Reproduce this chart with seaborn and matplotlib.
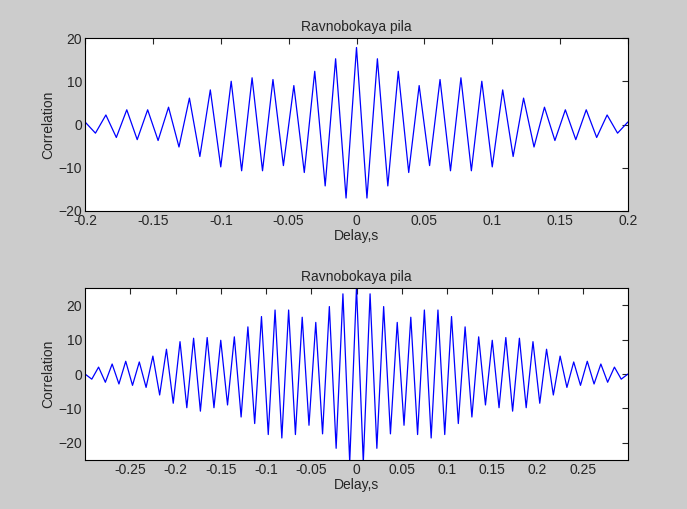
import numpy as np
import pandas as pd
import matplotlib
matplotlib.use("Agg")
import matplotlib.pyplot as plt
import seaborn as sns

sns.set_style("white")
plt.rcParams['font.family'] = ['Liberation Sans', 'DejaVu Sans']

# right-half extremes (peak, trough alternating), mirrored for the left half
top_peaks = [17.8, 15.2, 12.3, 9.0, 10.4, 10.8, 10.0, 8.0, 6.1, 4.0, 3.4, 3.4, 2.2]
top_troughs = [-17.0, -14.2, -11.1, -9.5, -10.7, -10.7, -9.8, -7.4, -5.2, -3.7, -3.5, -3.0, -2.0]
top_end = 0.6
bot_peaks = [25.3, 23.3, 19.6, 15.0, 16.5, 18.6, 18.6, 16.7, 13.7, 10.8, 9.8, 10.6, 10.4,
             9.4, 7.2, 5.2, 3.5, 3.7, 2.9, 2.0]
bot_troughs = [-25.7, -21.6, -17.4, -14.9, -17.6, -18.6, -17.6, -14.4, -12.5, -9.0, -9.8,
               -10.8, -9.8, -8.5, -6.1, -3.9, -3.3, -2.9, -2.4, -1.5]
bot_end = 0.0

def build(peaks, troughs, end, half):
    right = []
    for p, t in zip(peaks, troughs):
        right += [p, t]
    right.append(end)
    right = np.array(right)
    vals = np.concatenate([right[:0:-1], right])
    k = np.arange(-(len(right) - 1), len(right))
    return pd.DataFrame({"Delay": k * half, "Correlation": vals})

df_top = build(top_peaks, top_troughs, top_end, 0.2 / 26)
df_bot = build(bot_peaks, bot_troughs, bot_end, 0.0075)

fig = plt.figure(figsize=(6.87, 5.09), dpi=100, facecolor="#cccccc")
ax1 = fig.add_axes([85/687, 1-211/509, 543/687, 173/509])
ax2 = fig.add_axes([85/687, 1-460/509, 543/687, 172/509])

for ax, df, xl, yl, xt, yt in [
    (ax1, df_top, (-0.2, 0.2), (-20, 20), [-0.2, -0.15, -0.1, -0.05, 0, 0.05, 0.1, 0.15, 0.2], [-20, -10, 0, 10, 20]),
    (ax2, df_bot, (-0.3, 0.3), (-25, 25), [-0.25, -0.2, -0.15, -0.1, -0.05, 0, 0.05, 0.1, 0.15, 0.2, 0.25], [-20, -10, 0, 10, 20]),
]:
    sns.lineplot(data=df, x="Delay", y="Correlation", ax=ax, color="#0000ff", linewidth=0.9)
    ax.set_xlim(*xl)
    ax.set_ylim(*yl)
    ax.set_xticks(xt)
    ax.set_xticklabels([f"{v:g}" for v in xt])
    ax.set_yticks(yt)
    ax.set_facecolor("white")
    ax.set_title("Ravnobokaya pila", fontsize=10, pad=5)
    ax.set_xlabel("Delay,s", fontsize=10, labelpad=1)
    ax.set_ylabel("Correlation", fontsize=10, labelpad=2)
    ax.tick_params(direction="in", length=4, labelsize=10, top=True, right=True, pad=2)
    for s in ax.spines.values():
        s.set_linewidth(0.8)
        s.set_color("black")

fig.savefig("out.png", dpi=100, facecolor=fig.get_facecolor())
